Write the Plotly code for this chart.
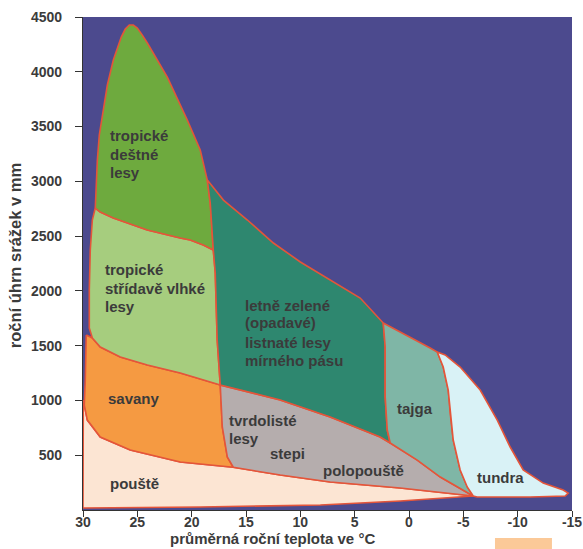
import plotly.graph_objects as go

# ---- data (temperature °C, precipitation mm) ----
rain_T = [28.87, 28.68, 28.50, 28.13, 27.76, 27.21, 26.84, 26.48, 26.11, 25.74, 25.37, 25.00, 24.54, 24.08, 22.24, 20.40, 19.21, 18.56, 18.29, 18.01, 18.93, 20.13, 21.05, 24.08, 27.21, 28.41, 28.87]
rain_P = [2756, 3195, 3423, 3651, 3879, 4107, 4217, 4317, 4390, 4427, 4427, 4399, 4335, 4263, 3952, 3560, 3286, 3012, 2802, 2373, 2419, 2464, 2483, 2556, 2665, 2720, 2756]

lg_T = [28.87, 28.41, 27.21, 24.08, 21.05, 20.13, 18.93, 18.01, 17.83, 17.65, 17.37, 21.05, 24.08, 26.57, 28.41, 29.14, 29.42, 29.42, 29.33, 29.14, 28.87]
lg_P = [2756, 2720, 2665, 2556, 2483, 2464, 2419, 2373, 2163, 1552, 1141, 1250, 1323, 1396, 1488, 1570, 1661, 2008, 2373, 2647, 2756]

sav_T = [29.70, 29.14, 28.41, 26.57, 24.08, 21.05, 17.37, 17.18, 16.72, 16.17, 21.05, 25.65, 28.41, 29.60, 29.88, 29.79, 29.70]
sav_P = [1597, 1570, 1488, 1396, 1323, 1250, 1141, 758, 484, 390, 438, 548, 666, 821, 958, 1187, 1597]

des_T = [29.97, 29.88, 29.60, 28.41, 25.65, 21.05, 16.17, 11.85, 7.25, 0.81, -5.91, 0.81, 8.16, 19.21, 30.0, 29.97]
des_P = [1004, 958, 821, 666, 548, 438, 390, 319, 256, 201, 128, 82, 46, 27, 18, 1004]

grey_T = [17.37, 11.85, 7.25, 2.65, 1.73, -0.76, -2.88, -5.91, 0.81, 7.25, 11.85, 16.17, 16.72, 17.18, 17.37]
grey_P = [1141, 1004, 849, 666, 612, 456, 301, 128, 201, 256, 319, 390, 484, 758, 1141]

teal_T = [18.56, 17.08, 14.87, 12.48, 10.0, 7.25, 4.49, 2.37, 2.19, 2.19, 2.00, 1.73, 2.65, 7.25, 11.85, 17.37, 17.65, 17.83, 18.01, 18.29, 18.56]
teal_P = [3012, 2829, 2647, 2437, 2264, 2099, 1935, 1707, 1488, 1031, 730, 612, 666, 849, 1004, 1141, 1552, 2163, 2373, 2802, 3012]

taj_T = [2.37, -0.11, -1.95, -2.60, -3.15, -3.61, -3.79, -4.07, -4.71, -5.36, -5.91, -2.88, -0.76, 1.73, 2.00, 2.19, 2.19, 2.37]
taj_P = [1707, 1579, 1479, 1442, 1305, 1095, 885, 639, 365, 210, 128, 301, 456, 612, 730, 1031, 1488, 1707]

tun_T = [-2.60, -3.33, -4.71, -6.55, -8.12, -9.31, -10.51, -12.35, -14.19, -14.65, -14.37, -11.15, -6.27, -5.91, -5.36, -4.71, -4.07, -3.79, -3.61, -3.15, -2.60]
tun_P = [1442, 1415, 1305, 1095, 821, 575, 365, 246, 183, 155, 128, 119, 119, 128, 210, 365, 639, 885, 1095, 1305, 1442]

x_ticks = [30, 25, 20, 15, 10, 5, 0, -5, -10, -15]
x_tick_labels = ["30", "25", "20", "15", "10", "5", "0", "-5", "-10", "-15"]
y_ticks = [500, 1000, 1500, 2000, 2500, 3000, 3500, 4000, 4500]
y_tick_labels = ["500", "1000", "1500", "2000", "2500", "3000", "3500", "4000", "4500"]

# label lines: (text, T, P)
label_text = ["tropické", "deštné", "lesy",
              "tropické", "střídavě vlhké", "lesy",
              "letně zelené", "(opadavé)", "listnaté lesy", "mírného pásu",
              "savany", "tvrdolisté", "lesy", "stepi", "polopouště",
              "pouště", "tajga", "tundra"]
label_T = [27.67, 27.67, 27.67,
           28.13, 28.13, 28.13,
           15.25, 15.25, 15.25, 15.25,
           27.86, 16.72, 16.72, 12.95, 8.08,
           27.67, 1.27, -6.09]
label_P = [3414, 3249, 3085,
           2191, 2026, 1853,
           1871, 1707, 1533, 1369,
           1022, 821, 657, 520, 365,
           246, 931, 301]

regions = [
    (des_T, des_P, "#fce5d3"),
    (sav_T, sav_P, "#f59a42"),
    (grey_T, grey_P, "#b5adad"),
    (lg_T, lg_P, "#a6cd7e"),
    (rain_T, rain_P, "#6eaa3e"),
    (teal_T, teal_P, "#2e876f"),
    (taj_T, taj_P, "#7fb6a6"),
    (tun_T, tun_P, "#d9f2f6"),
]

fig = go.Figure()
for T, P, col in regions:
    fig.add_trace(go.Scatter(
        x=T, y=P, mode="lines", fill="toself", fillcolor=col,
        line=dict(color="#e4553a", width=1.6), hoverinfo="skip", showlegend=False))

txt_font = dict(family="Liberation Sans, Arial, sans-serif", size=15, color="#3b3b3b", weight="bold")
for t, tx, py in zip(label_text, label_T, label_P):
    fig.add_annotation(x=tx, y=py, xref="x", yref="y", text=t, showarrow=False,
                       xanchor="left", yanchor="middle", font=txt_font)

title_font = dict(family="Liberation Sans, Arial, sans-serif", size=15, color="#3b3b3b", weight="bold")
ytitle_font = dict(family="Liberation Sans, Arial, sans-serif", size=16.5, color="#3b3b3b", weight="bold")
fig.add_annotation(x=-0.139, y=0.515, xref="paper", yref="paper", text="roční úhrn srážek v mm",
                   textangle=-90, showarrow=False, xanchor="center", yanchor="middle", font=ytitle_font)
fig.add_annotation(x=0.3885, y=-0.0575, xref="paper", yref="paper", text="průměrná roční teplota ve °C",
                   showarrow=False, xanchor="center", yanchor="middle", font=title_font)

fig.add_shape(type="rect", xref="paper", yref="paper", x0=0.8425, x1=0.959, y0=-0.085, y1=-0.0568,
              fillcolor="#fbc998", line=dict(width=0), layer="above")

tick_font = dict(family="Liberation Sans, Arial, sans-serif", size=14, color="#3b3b3b", weight="bold")
fig.update_xaxes(range=[30, -15], tickvals=x_ticks, ticktext=x_tick_labels, ticks="outside",
                 ticklen=6, tickwidth=1.3, tickcolor="#333", showgrid=False, zeroline=False,
                 showline=True, linecolor="#333", linewidth=1.3, tickfont=tick_font,
                 ticklabelstandoff=-7, automargin=False)
fig.update_yaxes(range=[0, 4500], tickvals=y_ticks, ticktext=y_tick_labels, ticks="outside",
                 ticklen=7, tickwidth=1.3, tickcolor="#333", showgrid=False, zeroline=False,
                 showline=True, linecolor="#333", linewidth=1.3, tickfont=tick_font,
                 ticklabelstandoff=10, automargin=False)
fig.update_layout(width=583, height=549, margin=dict(l=83, r=11, t=17, b=39, autoexpand=False),
                  plot_bgcolor="#4c4a8e", paper_bgcolor="white")

# remove the default page margin and scrollbars so the figure fills the window exactly
fig.write_html(
    "out.html",
    config={"displayModeBar": False},
    post_script=("document.documentElement.style.margin='0px';"
                 "document.body.style.margin='0px';"
                 "document.documentElement.style.overflow='hidden';"
                 "document.body.style.overflow='hidden';"),
)
